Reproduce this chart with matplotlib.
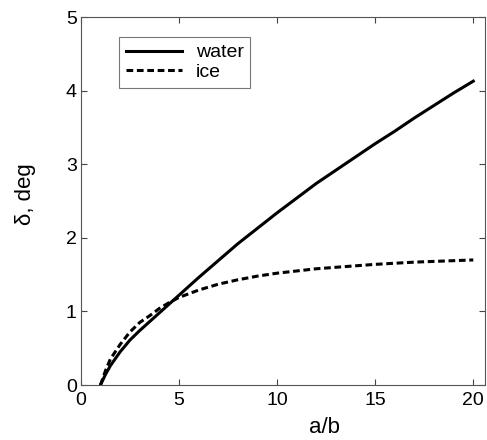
import numpy as np
import matplotlib.pyplot as plt

plt.rcParams['font.family'] = ['Liberation Sans', 'DejaVu Sans']

ratio = [1, 1.25, 1.5, 2, 2.5, 3, 3.5, 4, 4.5, 5, 6, 7, 8, 9, 10,
         11, 12, 13, 14, 15, 16, 17, 18, 19, 20]
water = [0, 0.14, 0.26, 0.45, 0.61, 0.74, 0.86, 0.98, 1.10, 1.22, 1.46, 1.69, 1.92, 2.13, 2.34,
         2.54, 2.74, 2.92, 3.10, 3.28, 3.45, 3.63, 3.80, 3.97, 4.13]
ice = [0, 0.19, 0.35, 0.55, 0.72, 0.85, 0.94, 1.04, 1.12, 1.19, 1.29, 1.37, 1.43, 1.48, 1.52,
       1.55, 1.58, 1.60, 1.62, 1.64, 1.655, 1.67, 1.68, 1.69, 1.70]

fig = plt.figure(figsize=(4.87, 4.4), dpi=100)
ax = fig.add_axes([0.166, 0.125, 0.830, 0.836])

ax.plot(ratio, water, color='black', lw=2.2, label='water')
ax.plot(ratio, ice, color='black', lw=2.2, ls=(0, (2.2, 1.2)), label='ice')

ax.set_xlim(0, 20.6)
ax.set_ylim(0, 5)
ax.set_xticks([0, 5, 10, 15, 20])
ax.set_yticks([0, 1, 2, 3, 4, 5])
ax.tick_params(direction='in', top=True, right=True, length=4, labelsize=14, colors='#444444',
               labelcolor='black')
ax.tick_params(axis='x', pad=5)
ax.tick_params(axis='y', pad=3)
for s in ax.spines.values():
    s.set_color('#555555')

ax.set_xlabel('a/b', fontsize=16)
ax.xaxis.set_label_coords(0.604, -0.088)
ax.set_ylabel('δ, deg', fontsize=16)
ax.yaxis.set_label_coords(-0.11, 0.52)

leg = ax.legend(loc='upper left', bbox_to_anchor=(0.094, 0.946), borderaxespad=0,
                fontsize=14, fancybox=False, edgecolor='#555555', handlelength=2.9,
                borderpad=0.35, labelspacing=0.1, handletextpad=0.7)
leg.get_frame().set_linewidth(0.8)

fig.savefig('out.png')
